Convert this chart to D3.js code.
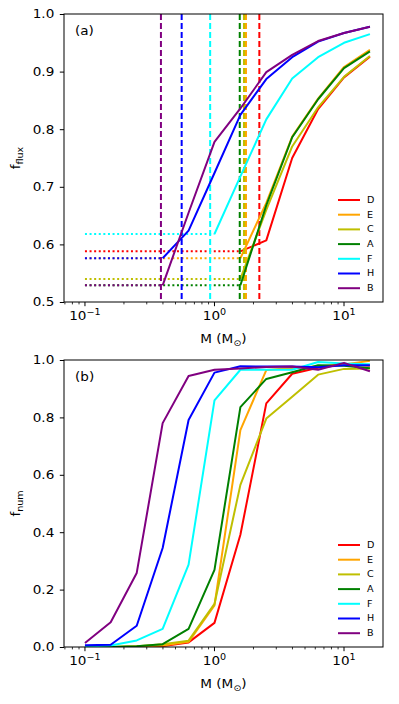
<!DOCTYPE html>
<html><head><meta charset="utf-8">
<script src="https://cdn.jsdelivr.net/npm/d3@7"></script>
<style>
html,body{margin:0;padding:0;background:#fff;}
svg{display:block;font-family:"DejaVu Sans",sans-serif;}
</style></head>
<body>
<svg id="chart" width="399" height="704"></svg>
<script>
// ---- data ----
const masses = [0.1, 0.158, 0.251, 0.398, 0.631, 1.0, 1.585, 2.512, 3.981, 6.31, 10.0, 15.85];
const seriesNames = ["D", "E", "C", "A", "F", "H", "B"];
const seriesColors = ["#ff0000", "#ffa500", "#bfbf00", "#008000", "#00ffff", "#0000ff", "#800080"];

// panel (a): f_flux (null = no point)
const fluxD = [null, null, null, null, null, null, 0.588, 0.607, 0.750, 0.835, 0.890, 0.926];
const fluxE = [null, null, null, null, null, null, 0.576, 0.672, 0.787, 0.853, 0.908, 0.938];
const fluxC = [null, null, null, null, null, null, 0.540, 0.660, 0.770, 0.838, 0.891, 0.927];
const fluxA = [null, null, null, null, null, null, 0.529, 0.668, 0.786, 0.852, 0.906, 0.935];
const fluxF = [null, null, null, null, null, 0.618, 0.718, 0.817, 0.888, 0.925, 0.950, 0.965];
const fluxH = [null, null, null, 0.576, 0.624, 0.724, 0.825, 0.887, 0.925, 0.952, 0.967, 0.978];
const fluxB = [null, null, null, 0.529, 0.655, 0.778, 0.836, 0.899, 0.929, 0.953, 0.967, 0.978];
// vertical dashed thresholds (M_sun)
const thresholds = [2.22, 1.75, 1.69, 1.567, 0.926, 0.558, 0.386];

// panel (b): f_num
const numD = [0.000, 0.000, 0.000, 0.003, 0.016, 0.084, 0.391, 0.849, 0.952, 0.973, 0.986, 0.980];
const numE = [0.000, 0.000, 0.002, 0.005, 0.018, 0.145, 0.756, 0.965, 0.972, 0.978, 0.984, 0.997];
const numC = [0.000, 0.000, 0.003, 0.010, 0.022, 0.150, 0.565, 0.796, 0.872, 0.949, 0.969, 0.970];
const numA = [0.000, 0.000, 0.003, 0.010, 0.063, 0.269, 0.836, 0.934, 0.957, 0.982, 0.980, 0.971];
const numF = [0.002, 0.005, 0.023, 0.063, 0.287, 0.859, 0.966, 0.966, 0.966, 0.993, 0.988, 0.985];
const numH = [0.006, 0.008, 0.074, 0.345, 0.791, 0.956, 0.978, 0.977, 0.977, 0.975, 0.982, 0.982];
const numB = [0.014, 0.086, 0.258, 0.780, 0.944, 0.966, 0.970, 0.976, 0.977, 0.966, 0.990, 0.961];

const fluxTicks = [0.5, 0.6, 0.7, 0.8, 0.9, 1.0];
const numTicks = [0.0, 0.2, 0.4, 0.6, 0.8, 1.0];
const xMajor = [0.1, 1, 10];
const xMajorExp = ["\u22121", "0", "1"];
const xDomain = [0.0689, 20];

const fluxSeries = [fluxD, fluxE, fluxC, fluxA, fluxF, fluxH, fluxB];
const numSeries = [numD, numE, numC, numA, numF, numH, numB];

// ---- drawing ----
const svg = d3.select("#chart");
const FS = 12;
const SX = 1.13; // horizontal glyph stretch seen in the reference

function stretchAt(sel) {
  sel.each(function () {
    const t = d3.select(this);
    const x = +t.attr("x") || 0;
    const prev = t.attr("transform") || "";
    t.attr("transform", `${prev} translate(${x},0) scale(${SX},1) translate(${-x},0)`);
  });
}

function panel(cfg) {
  const x = d3.scaleLog().domain(xDomain).range([64, 383]);
  const y = d3.scaleLinear().domain(cfg.yDomain).range([cfg.bottom, cfg.top]);
  const g = svg.append("g");
  const line = d3.line().defined(d => d[1] != null).x(d => x(d[0])).y(d => y(d[1]));

  const cid = "clip" + cfg.id;
  svg.append("clipPath").attr("id", cid).append("rect")
    .attr("x", 64).attr("y", cfg.top).attr("width", 319).attr("height", cfg.bottom - cfg.top);
  const plot = g.append("g").attr("clip-path", `url(#${cid})`);

  cfg.series.forEach((vals, i) => {
    const col = seriesColors[i];
    const pts = masses.map((m, j) => [m, vals[j]]);
    if (cfg.extras) {
      const first = pts.find(p => p[1] != null);
      plot.append("path")
        .attr("d", line([[masses[0], first[1]], first]))
        .attr("fill", "none").attr("stroke", col).attr("stroke-width", 2)
        .attr("stroke-dasharray", "2,2.6");
      plot.append("line")
        .attr("x1", x(thresholds[i])).attr("x2", x(thresholds[i]))
        .attr("y1", cfg.top).attr("y2", cfg.bottom)
        .attr("stroke", col).attr("stroke-width", 2)
        .attr("stroke-dasharray", "6,3");
    }
    plot.append("path").attr("d", line(pts))
      .attr("fill", "none").attr("stroke", col).attr("stroke-width", 2)
      .attr("stroke-linejoin", "round");
  });

  g.append("rect").attr("x", 64).attr("y", cfg.top).attr("width", 319)
    .attr("height", cfg.bottom - cfg.top).attr("fill", "none").attr("stroke", "#000").attr("stroke-width", 1);

  // y axis
  const yAx = d3.axisLeft(y).tickValues(cfg.yTicks).tickFormat(d3.format(".1f")).tickSizeOuter(0).tickSize(4.2).tickPadding(5.5);
  const ya = g.append("g").attr("transform", "translate(64,0)").call(yAx);
  ya.select(".domain").remove();
  ya.selectAll("text").attr("font-size", FS).attr("font-family", "DejaVu Sans").attr("fill", "#000");
  ya.selectAll("line").attr("stroke", "#000");
  stretchAt(ya.selectAll("text"));

  // x axis
  const minor = x.ticks().filter(v => v > xDomain[0] && v < xDomain[1] && !xMajor.includes(v));
  const xa = g.append("g").attr("transform", `translate(0,${cfg.bottom})`);
  xa.selectAll("line.minor").data(minor).join("line").attr("class", "minor")
    .attr("x1", d => x(d)).attr("x2", d => x(d)).attr("y1", 0).attr("y2", 2.4)
    .attr("stroke", "#000").attr("stroke-width", 0.8);
  xa.selectAll("line.major").data(xMajor).join("line").attr("class", "major")
    .attr("x1", d => x(d)).attr("x2", d => x(d)).attr("y1", 0).attr("y2", 4.2)
    .attr("stroke", "#000").attr("stroke-width", 1);
  const tl = xa.selectAll("text.tl").data(xMajor).join("text").attr("class", "tl")
    .attr("x", d => x(d)).attr("y", 18).attr("text-anchor", "middle")
    .attr("font-size", FS).attr("fill", "#000");
  tl.append("tspan").text("10");
  tl.append("tspan").attr("dy", -5).attr("font-size", 8.5).text((d, i) => xMajorExp[i]);
  stretchAt(tl);

  // x label
  const xl = g.append("text").attr("x", 223.5).attr("y", cfg.bottom + 41)
    .attr("text-anchor", "middle").attr("font-size", FS).attr("fill", "#000");
  xl.append("tspan").text("M (M");
  xl.append("tspan").attr("dy", 3).attr("font-size", 8.5).text("\u2299");
  xl.append("tspan").attr("dy", -3).text(")");
  stretchAt(xl);

  // y label
  const yl = g.append("text")
    .attr("transform", `translate(20,${(cfg.top + cfg.bottom) / 2}) rotate(-90) scale(${SX},1)`)
    .attr("text-anchor", "middle").attr("font-size", FS).attr("fill", "#000");
  yl.append("tspan").text("f");
  yl.append("tspan").attr("dy", 3).attr("font-size", 8.5).text(cfg.ylabSub);

  // panel tag
  const tag = g.append("text").attr("x", 75).attr("y", cfg.top + 21).attr("font-size", FS).attr("fill", "#000").text(cfg.tag);
  stretchAt(tag);

  // legend
  const lg = g.append("g");
  seriesNames.forEach((n, i) => {
    const yy = cfg.legTop + i * 14.7;
    lg.append("line").attr("x1", 338).attr("x2", 360).attr("y1", yy).attr("y2", yy)
      .attr("stroke", seriesColors[i]).attr("stroke-width", 2);
    const lt = lg.append("text").attr("x", 367).attr("y", yy).attr("dy", "0.35em")
      .attr("font-size", 8.5).attr("fill", "#000").text(n);
    stretchAt(lt);
  });
}

panel({id: "a", top: 14, bottom: 302, yDomain: [0.5, 1.0], yTicks: fluxTicks, series: fluxSeries,
       extras: true, ylabSub: "flux", tag: "(a)", legTop: 200});
panel({id: "b", top: 360, bottom: 647, yDomain: [0.0, 1.0], yTicks: numTicks, series: numSeries,
       extras: false, ylabSub: "num", tag: "(b)", legTop: 545});
</script>
</body></html>
